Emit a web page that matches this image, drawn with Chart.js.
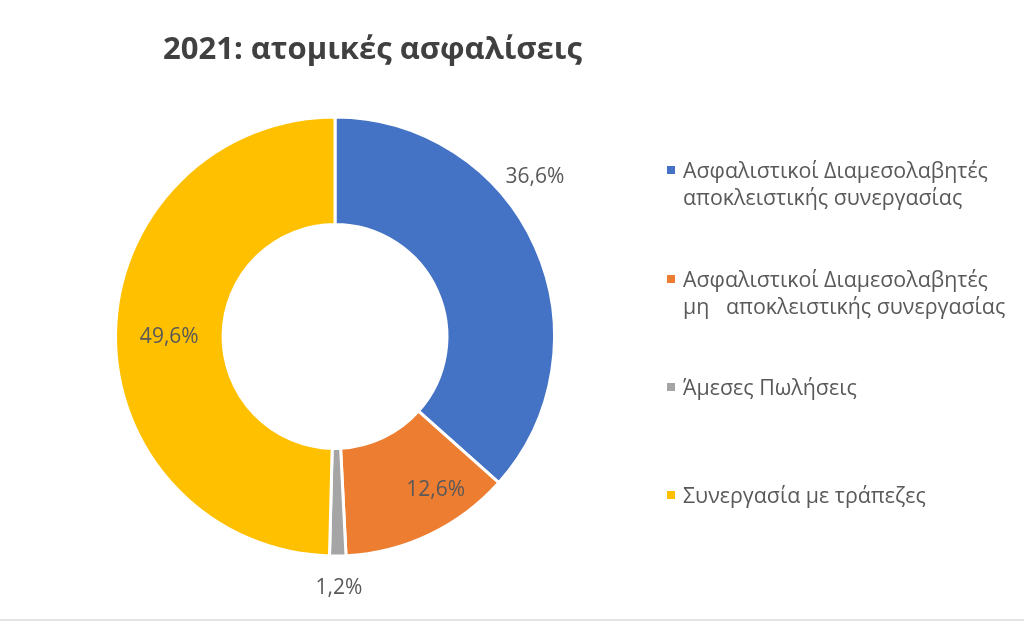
<!DOCTYPE html>
<html>
<head>
<meta charset="utf-8">
<script src="https://cdn.jsdelivr.net/npm/chart.js@4"></script>
<style>
  html, body { margin: 0; padding: 0; background: #fff; }
  #wrap { position: relative; width: 1024px; height: 621px; overflow: hidden; }
  #chart { position: absolute; left: 0; top: 0; }
  #title { position: absolute; left: 163px; top: 32px; font: bold 31px "Open Sans", sans-serif; line-height: 31px; color: #404040; white-space: nowrap; }
  .leg { position: absolute; left: 683px; font: 21.4px "Open Sans", sans-serif; line-height: 27px; color: #595959; white-space: pre; }
  .leg i { position: absolute; left: -16px; top: 10px; width: 8px; height: 8px; }
  #bottomline { position: absolute; left: 0; right: 0; top: 619px; height: 2px; background: #e3e3e3; }
</style>
</head>
<body>
<div id="wrap">
  <canvas id="chart" width="1024" height="621"></canvas>
  <div id="title">2021: ατομικές ασφαλίσεις</div>
  <div id="legend"></div>
  <div id="bottomline"></div>
</div>
<script>
// δεδομένα
const titleText = '2021: ατομικές ασφαλίσεις';
const categories = [
  'Ασφαλιστικοί Διαμεσολαβητές\nαποκλειστικής συνεργασίας',
  'Ασφαλιστικοί Διαμεσολαβητές\nμη   αποκλειστικής συνεργασίας',
  'Άμεσες Πωλήσεις',
  'Συνεργασία με τράπεζες'
];
const shares = [36.6, 12.6, 1.2, 49.6];
const colors = ['#4472C4', '#ED7D31', '#A5A5A5', '#FFC000'];

// θέση ετικετών (γωνία σε μοίρες, απόσταση ως ποσοστό της εξωτερικής ακτίνας)
const labelAngles = [-38.6, 56.7, 89.1, 179.8];
const labelRadii = [1.165, 0.835, 1.145, 0.755];
const legendTops = [156, 265, 373, 481];

document.getElementById('title').textContent = titleText;

// υπόμνημα
const legendBox = document.getElementById('legend');
categories.forEach((name, i) => {
  const item = document.createElement('div');
  item.className = 'leg';
  item.style.top = legendTops[i] + 'px';
  item.textContent = name;
  const mark = document.createElement('i');
  mark.style.background = colors[i];
  item.appendChild(mark);
  legendBox.appendChild(item);
});

// ετικέτες τιμών
const valueLabels = {
  id: 'valueLabels',
  afterDatasetsDraw(chart) {
    const ctx = chart.ctx;
    const arcs = chart.getDatasetMeta(0).data;
    ctx.save();
    ctx.font = '21px "Open Sans", sans-serif';
    ctx.fillStyle = '#595959';
    ctx.textAlign = 'center';
    ctx.textBaseline = 'middle';
    arcs.forEach((arc, i) => {
      const p = arc.getProps(['x', 'y', 'outerRadius'], true);
      const a = labelAngles[i] * Math.PI / 180;
      const r = p.outerRadius * labelRadii[i];
      const txt = shares[i].toFixed(1).replace('.', ',') + '%';
      ctx.fillText(txt, p.x + r * Math.cos(a), p.y + r * Math.sin(a));
    });
    ctx.restore();
  }
};

new Chart(document.getElementById('chart'), {
  type: 'doughnut',
  data: {
    labels: categories,
    datasets: [{
      data: shares,
      backgroundColor: colors,
      borderColor: '#ffffff',
      borderWidth: 3
    }]
  },
  options: {
    responsive: false,
    animation: false,
    cutout: '51%',
    layout: { padding: { left: 114, right: 468, top: 115, bottom: 63 } },
    plugins: {
      legend: { display: false },
      title: { display: false },
      tooltip: { enabled: false }
    }
  },
  plugins: [valueLabels]
});
</script>
</body>
</html>
